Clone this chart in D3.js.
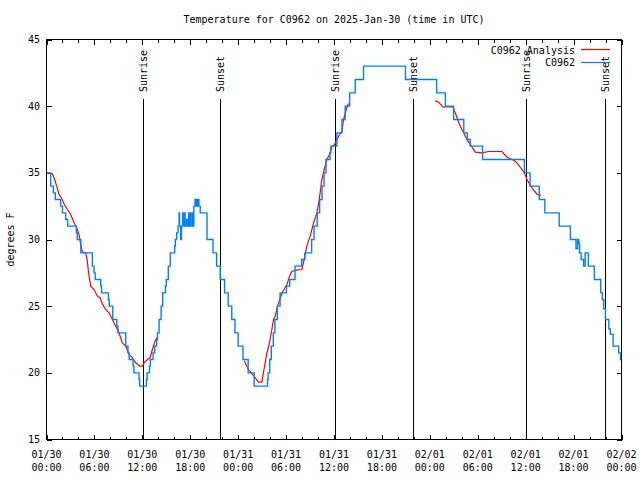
<!DOCTYPE html>
<html><head><meta charset="utf-8">
<script src="https://cdn.jsdelivr.net/npm/d3@7"></script>
<style>
body{margin:0;background:#fff}
text{font-family:"DejaVu Sans Mono","Liberation Mono",monospace;font-size:10px;fill:#000}
</style>
</head><body><svg id="chart" width="640" height="480"></svg>
<script>
// ---- data (hours since 2025-01-30 00:00 UTC, degrees F) ----
const startUTC = Date.UTC(2025, 0, 30);
const endUTC = Date.UTC(2025, 1, 2);
const titleText = "Temperature for C0962 on 2025-Jan-30 (time in UTC)";
const yLabelText = "degrees F";
const seriesNames = ["C0962 Analysis", "C0962"];
const seriesColors = ["#ff0000", "#0080ff"];
const yTicks = [15, 20, 25, 30, 35, 40, 45];

const obsHours = [0,0.52,0.86,1.1,1.77,2.0,2.4,2.65,3.74,3.85,4.3,5.74,5.95,6.1,6.79,6.9,7.75,7.85,8.3,8.8,8.95,9.92,10.2,10.35,10.84,10.95,11.59,11.67,12.51,12.6,12.9,13.0,13.35,13.55,13.8,13.9,14.1,14.35,14.55,14.9,15.0,15.25,15.5,16.05,16.13,16.3,16.47,16.6,16.66,16.8,16.9,17.05,17.12,17.3,17.36,17.55,17.62,17.8,17.86,18.0,18.06,18.25,18.31,18.45,18.6,18.7,18.8,18.9,19.0,19.08,19.25,20.1,20.85,21.3,21.75,22.3,22.75,23.2,23.6,24.0,24.6,25.25,26.0,27.67,27.75,27.95,28.15,28.4,28.6,28.9,29.25,30.05,30.45,31.12,31.95,32.35,33.2,33.5,33.9,34.2,34.5,34.75,35.0,35.5,35.6,36.36,37.0,37.4,37.96,38.66,39.7,44.95,48.85,49.95,50.98,52.25,52.7,53.05,54.6,59.84,60.55,61.7,62.4,64.2,65.6,66.3,66.5,66.65,66.75,66.95,67.25,67.45,67.85,68.6,69.4,69.6,69.78,69.99,70.41,70.6,70.95,71.65,71.87,72];
const obsTemps = [35,34,33.5,33,32.5,32,31.5,31,30.5,30,29,28,27.5,27,26.5,26,25.5,25,24,23.5,23,22,21.5,21,20.5,20,19.5,19,19.5,20,20.5,21,21.5,22,22.5,23,24,25,26,26.5,27,28,29,29.5,30,30.5,31,32,31,30,31,32,31,32,31,31.5,31,32,31,32,31,32,31,32.5,33,32.5,33,32.5,33,32.5,32,30,29,28,27,26,25,24,23,22,21,20,19,19.5,20,21,22,23,24,25,26,26.5,27,28,28.5,29,30,31,32,33,34,35,36,36.5,37,38,39,40,41,42,43,42,41,40,39,38,37.5,37,36,35,34,33,32,31,30,29.3,30,29.7,29,28.5,28,29,28,27,26,25.5,24.8,24,23.3,22.9,22,21.5,21,21];

const anaHours = [0,0.73,1.02,1.27,1.57,1.86,2.19,2.61,3.03,3.45,3.78,4.07,4.28,4.49,4.91,5.12,5.24,5.53,5.95,6.37,6.7,6.99,7.41,7.83,8.25,8.67,9.08,9.5,9.92,10.34,10.76,11.17,11.67,12.01,12.22,12.64,12.97,13.26,13.6,13.89,
  null,
  24.75,25.29,25.92,26.55,26.96,27.09,27.38,27.59,27.8,28.0,28.22,28.43,28.64,28.93,29.26,29.59,30.1,30.43,30.72,31.26,31.97,32.27,32.6,33.02,33.44,33.86,34.15,34.48,34.77,35.11,35.44,35.73,36.07,36.36,36.77,36.99,37.2,37.53,37.82,
  null,
  48.69,49.1,49.65,50.9,51.19,51.48,51.82,52.23,52.74,53.28,53.69,54.53,55.37,57.04,57.46,57.87,58.5,58.92,59.34,59.84,60.17,60.6,61.01,61.42,61.93];
const anaTemps = [35.0,34.93,34.5,34.0,33.38,33.13,32.68,32.25,31.88,31.25,30.88,30.38,29.63,29.08,28.98,28.38,27.63,26.5,26.25,25.75,25.63,25.18,24.75,24.5,24.0,23.5,23.0,22.25,22.0,21.38,21.13,20.75,20.5,20.5,20.75,21.0,21.13,21.75,22.38,22.68,
  null,
  20.9,20.25,19.8,19.3,19.3,19.75,20.75,21.5,21.9,22.5,23.25,24.0,24.25,25.0,25.6,26.1,26.6,27.25,27.6,27.7,27.75,28.5,29.5,30.25,31.25,32.0,33.0,34.5,35.25,36.0,36.4,36.95,37.1,37.5,37.95,38.1,39.0,39.75,40.2,
  null,
  40.4,40.3,39.95,39.95,39.5,39.0,38.5,38.0,37.4,36.95,36.55,36.5,36.6,36.6,36.3,36.1,35.95,35.75,35.4,35.0,34.5,34.05,33.7,33.4,33.3];

const sunLabels = ["Sunrise", "Sunset", "Sunrise", "Sunset", "Sunrise", "Sunset"];
const sunHours = [12.03, 21.78, 36.07, 45.84, 60.0, 69.9];

// ---- drawing ----
const svg = d3.select("#chart");
const L = 46.5, R = 621.5, T = 39.5, B = 439.5;
const toDate = h => new Date(startUTC + h * 3600e3);
const x = d3.scaleUtc().domain([new Date(startUTC), new Date(endUTC)]).range([L, R]);
const y = d3.scaleLinear().domain([15, 45]).range([B, T]);

svg.append("rect").attr("width", 640).attr("height", 480).attr("fill", "#fff");

svg.append("defs").append("clipPath").attr("id", "clip")
  .append("rect").attr("x", L).attr("y", T).attr("width", R - L).attr("height", B - T);

const majorTicks = d3.utcHour.every(6).range(toDate(0), toDate(72.01));
const minorTicks = d3.utcHour.every(2).range(toDate(0), toDate(72.01));

// x axes (bottom and mirrored top), ticks inward
const gx = svg.append("g").attr("transform", `translate(0,${B})`);
gx.call(d3.axisBottom(x).tickValues(minorTicks).tickSize(-3).tickFormat("").tickSizeOuter(0));
const gx2 = svg.append("g").attr("transform", `translate(0,${B})`);
gx2.call(d3.axisBottom(x).tickValues(majorTicks).tickSize(-5).tickFormat("").tickSizeOuter(0));
const gxt = svg.append("g").attr("transform", `translate(0,${T})`);
gxt.call(d3.axisTop(x).tickValues(minorTicks).tickSize(-3).tickFormat("").tickSizeOuter(0));
const gxt2 = svg.append("g").attr("transform", `translate(0,${T})`);
gxt2.call(d3.axisTop(x).tickValues(majorTicks).tickSize(-5).tickFormat("").tickSizeOuter(0));

const gy = svg.append("g").attr("transform", `translate(${L},0)`);
gy.call(d3.axisLeft(y).tickValues(yTicks).tickSize(-5).tickFormat("").tickSizeOuter(0));
const gyr = svg.append("g").attr("transform", `translate(${R},0)`);
gyr.call(d3.axisRight(y).tickValues(yTicks).tickSize(-5).tickFormat("").tickSizeOuter(0));
svg.selectAll(".domain").remove();
svg.selectAll(".tick line").attr("stroke", "#000").attr("shape-rendering", "crispEdges");

// tick labels
const fmtD = d3.utcFormat("%m/%d"), fmtH = d3.utcFormat("%H:%M");
const xl = svg.append("g");
majorTicks.forEach(d => {
  xl.append("text").attr("x", x(d)).attr("y", 457.5).attr("text-anchor", "middle").text(fmtD(d));
  xl.append("text").attr("x", x(d)).attr("y", 470.7).attr("text-anchor", "middle").text(fmtH(d));
});
svg.append("g").selectAll("text").data(yTicks).join("text")
  .attr("x", 40).attr("y", d => y(d)).attr("dy", "0.35em").attr("text-anchor", "end").text(d => d);

// title and y label
svg.append("text").attr("x", (L + R) / 2).attr("y", 23).attr("text-anchor", "middle").text(titleText);
svg.append("text").attr("transform", `translate(14,${(T + B) / 2}) rotate(-90)`).attr("text-anchor", "middle").text(yLabelText);

// sunrise/sunset lines
const sun = svg.append("g");
sunHours.forEach((h, i) => {
  const sx = Math.round(x(toDate(h))) + 0.5;
  sun.append("line").attr("x1", sx).attr("x2", sx).attr("y1", 99).attr("y2", B)
    .attr("stroke", "#000").attr("stroke-width", 1).attr("shape-rendering", "crispEdges");
  sun.append("text").attr("transform", `translate(${sx},92) rotate(-90)`).attr("dy", "0.35em").text(sunLabels[i]);
});

// series
const plot = svg.append("g").attr("clip-path", "url(#clip)");
const anaData = anaHours.map((h, i) => ({t: h, v: anaTemps[i]}));
const obsData = obsHours.map((h, i) => ({t: h, v: obsTemps[i]}));
const anaLine = d3.line().defined(d => d.t != null && d.v != null)
  .x(d => x(toDate(d.t))).y(d => y(d.v));
const obsLine = d3.line().x(d => x(toDate(d.t))).y(d => y(d.v)).curve(d3.curveStepAfter);
plot.append("path").attr("d", anaLine(anaData)).attr("fill", "none").attr("stroke", seriesColors[0]).attr("stroke-width", 1.2);
plot.append("path").attr("d", obsLine(obsData)).attr("fill", "none").attr("stroke", seriesColors[1]).attr("stroke-width", 1.4);

// legend
const lg = svg.append("g");
[0, 1].forEach(i => {
  const ly = 50 + i * 12.7;
  lg.append("text").attr("x", 575).attr("y", ly).attr("dy", "0.35em").attr("text-anchor", "end").text(seriesNames[i]);
  lg.append("line").attr("x1", 581).attr("x2", 610).attr("y1", Math.round(ly) - 0.5).attr("y2", Math.round(ly) - 0.5)
    .attr("stroke", seriesColors[i]).attr("stroke-width", 1.2);
});

// border
svg.append("rect").attr("x", L).attr("y", T).attr("width", R - L).attr("height", B - T)
  .attr("fill", "none").attr("stroke", "#000").attr("shape-rendering", "crispEdges");
</script>
</body></html>
